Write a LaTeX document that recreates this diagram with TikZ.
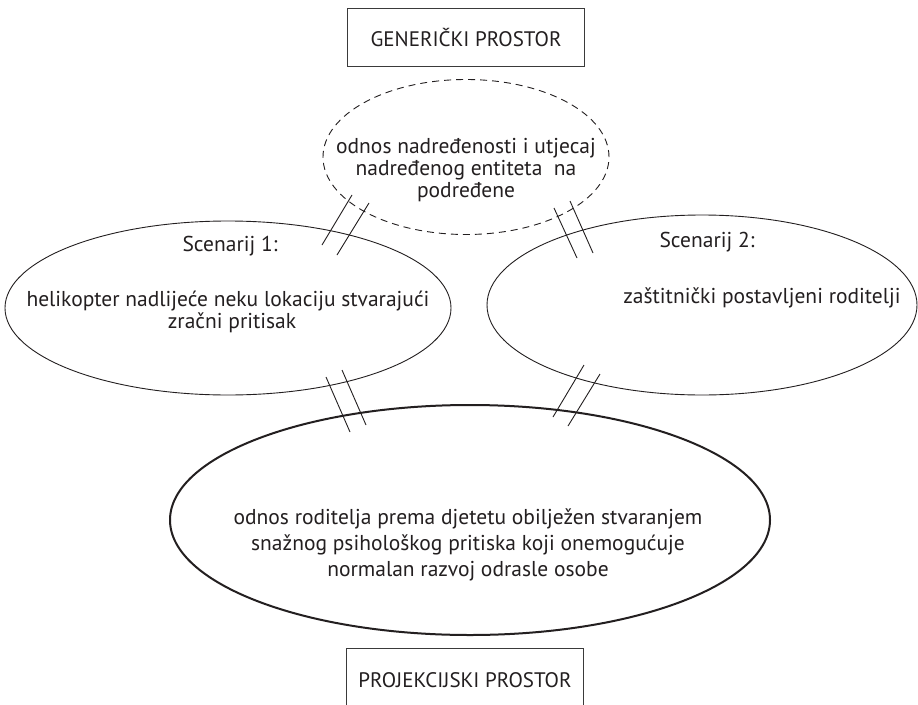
\documentclass[tikz,border=0pt]{standalone}
\usepackage{fontspec}
\setmainfont{PT Sans}
\usetikzlibrary{shapes.geometric}
\definecolor{ink}{HTML}{231F20}
\definecolor{boxc}{HTML}{3A3A3A}
\begin{document}
\begin{tikzpicture}[x=1pt,y=-1pt,
  ell/.style={draw=ink, ellipse, inner sep=0pt, line width=0.9pt},
  txt/.style={anchor=base, inner sep=0pt, text=ink, font=\fontsize{21.5}{22}\selectfont},
  boxnode/.style={draw=boxc, line width=1pt, minimum width=237pt, minimum height=58pt,
    text=ink, font=\fontsize{21}{22}\selectfont},
  slash/.style={draw=ink, line width=0.9pt}]
\useasboundingbox (0,0) rectangle (918,704);
\fill[white] (0,0) rectangle (918,704);

% boxes
\node[boxnode] (gbox) at (466,37) {GENERIČKI PROSTOR};
\node[boxnode, minimum height=63pt] (pbox) at (465,680) {PROJEKCIJSKI PROSTOR};

% ellipses
\node[ell, dash pattern=on 7pt off 5pt, minimum width=286pt, minimum height=155pt] (gen) at (466,157) {};
\node[ell, minimum width=446pt, minimum height=174pt] (s1) at (228,308) {};
\node[ell, minimum width=430pt, minimum height=180pt] (s2) at (702,305) {};
\node[ell, line width=2pt, minimum width=600pt, minimum height=230pt] (proj) at (470,520) {};

% texts
\node[txt] (g1) at (466,153) {odnos nadređenosti i utjecaj};
\node[txt] (g2) at (466,175) {nadređenog entiteta\ \ na};
\node[txt] (g3) at (466,197) {podređene};

\node[txt] (a0) at (230,251) {Scenarij 1:};
\node[txt] (a1) at (228,306) {helikopter nadlijeće neku lokaciju stvarajući};
\node[txt] (a2) at (232,328) {zračni pritisak};

\node[txt] (b0) at (707,247) {Scenarij 2:};
\node[txt] (b1) at (762,303) {zaštitnički postavljeni roditelji};

\node[txt] (p1) at (468,524) {odnos roditelja prema djetetu obilježen stvaranjem};
\node[txt] (p2) at (468,550) {snažnog psihološkog pritiska koji onemogućuje};
\node[txt] (p3) at (468,576) {normalan razvoj odrasle osobe};

% correspondence marks
\coordinate (m1a) at (352,195); \coordinate (m1b) at (322,245);
\coordinate (m1c) at (369,203); \coordinate (m1d) at (337,255);
\coordinate (m2a) at (554,208); \coordinate (m2b) at (577,258);
\coordinate (m2c) at (570,201); \coordinate (m2d) at (593,253);
\coordinate (m3a) at (326,377); \coordinate (m3b) at (350,432);
\coordinate (m3c) at (342,370); \coordinate (m3d) at (366,425);
\coordinate (m4a) at (584,365); \coordinate (m4b) at (553,417);
\coordinate (m4c) at (600,374); \coordinate (m4d) at (568,426);
\draw[slash] (m1a) -- (m1b); \draw[slash] (m1c) -- (m1d);
\draw[slash] (m2a) -- (m2b); \draw[slash] (m2c) -- (m2d);
\draw[slash] (m3a) -- (m3b); \draw[slash] (m3c) -- (m3d);
\draw[slash] (m4a) -- (m4b); \draw[slash] (m4c) -- (m4d);
\end{tikzpicture}
\end{document}
